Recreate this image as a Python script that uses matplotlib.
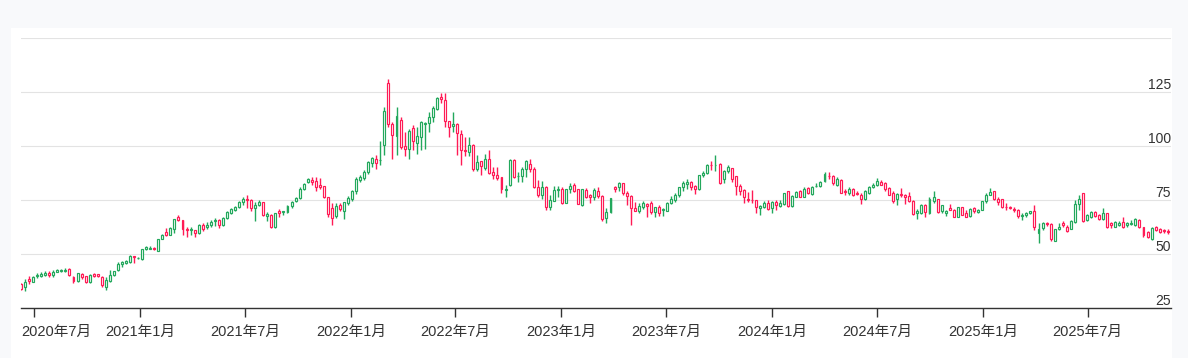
import numpy as np
import pandas as pd
import matplotlib
matplotlib.use("Agg")
import matplotlib.pyplot as plt
import matplotlib.dates as mdates
from matplotlib.patches import Rectangle
from matplotlib.ticker import FuncFormatter
from matplotlib.transforms import ScaledTranslation

# weekly candles, first week starting 2020-06-08
start_week = "2020-06-08"

opens = [
    36.0, 34.6, 38.2, 37.2, 39.6, 39.9, 40.4, 41.3, 40.3, 41.8, 42.1, 42.1, 43.0, 39.5, 37.4, 40.9, 39.7, 37.0, 40.6, 40.6,
    39.4, 34.6, 37.4, 40.2, 42.4, 45.4, 46.0, 46.3, 49.0, 48.0, 47.8, 52.5, 52.4, 52.6, 51.6, 57.1, 60.1, 59.0, 61.8, 67.0,
    65.6, 61.6, 61.1, 61.0, 59.6, 63.3, 62.4, 63.5, 65.2, 65.6, 63.6, 66.6, 68.9, 70.4, 71.7, 74.3, 75.3, 75.0, 71.3, 72.7,
    73.9, 67.4, 68.0, 62.4, 70.0, 69.4, 69.6, 72.0, 74.7, 75.8, 80.0, 83.5, 84.3, 83.6, 81.9, 81.4, 76.2, 71.4, 67.6, 72.8,
    69.8, 73.5, 75.3, 79.3, 84.3, 85.2, 88.0, 92.3, 94.1, 93.3, 100.3, 129.3, 110.2, 104.6, 112.0, 100.0, 98.5, 108.3, 101.2, 104.3,
    110.2, 110.8, 113.6, 117.0, 122.8, 121.3, 111.4, 109.3, 110.2, 105.6, 98.2, 97.4, 100.5, 89.5, 92.9, 89.8, 93.8, 88.0, 86.4, 85.5,
    79.8, 82.0, 93.5, 85.9, 86.1, 89.5, 91.7, 89.4, 80.9, 77.2, 81.2, 71.9, 74.7, 79.8, 80.0, 73.8, 80.3, 82.0, 80.0, 72.5,
    79.6, 77.1, 76.5, 79.2, 76.9, 66.7, 69.3, 81.2, 81.2, 82.7, 78.4, 76.9, 71.5, 69.8, 71.9, 73.2, 73.8, 69.6, 71.9, 70.3,
    70.1, 73.8, 75.0, 77.2, 80.9, 82.6, 83.2, 81.5, 80.3, 86.4, 87.4, 91.4, 91.0, 91.7, 84.9, 88.3, 89.7, 86.0, 81.5, 79.5,
    75.5, 75.2, 75.0, 71.2, 71.9, 73.8, 71.2, 74.1, 72.2, 73.2, 79.0, 72.2, 76.6, 79.0, 76.6, 80.6, 77.8, 81.3, 81.5, 83.6,
    86.3, 86.1, 82.1, 84.3, 79.0, 78.4, 80.3, 78.1, 77.5, 75.6, 78.4, 80.9, 81.8, 83.3, 82.7, 80.6, 78.4, 75.3, 77.8, 77.2,
    76.9, 74.7, 68.8, 69.1, 72.8, 69.1, 74.7, 75.3, 69.7, 68.8, 71.2, 70.6, 67.3, 71.6, 68.8, 67.6, 71.3, 69.4, 70.6, 74.4,
    77.5, 79.0, 75.6, 75.3, 71.9, 71.6, 71.0, 70.6, 67.6, 67.9, 68.8, 70.0, 59.8, 61.9, 64.5, 63.9, 56.2, 61.4, 64.5, 62.7,
    61.7, 64.8, 73.0, 78.1, 65.7, 67.0, 69.4, 68.2, 66.0, 68.8, 64.5, 62.7, 63.6, 64.8, 63.3, 64.0, 63.3, 65.7, 62.4, 60.2,
    57.1, 62.4, 61.7, 61.0, 60.7,
]
highs = [
    36.5, 38.3, 39.8, 39.8, 41.0, 41.5, 42.1, 42.0, 42.6, 42.9, 43.0, 43.4, 43.4, 39.6, 41.3, 41.2, 40.0, 40.8, 41.3, 40.9,
    39.8, 39.3, 42.4, 42.2, 46.1, 46.9, 47.4, 49.6, 49.2, 48.8, 52.4, 53.9, 53.5, 53.4, 57.0, 59.3, 62.0, 62.6, 66.2, 68.0,
    65.9, 62.3, 62.3, 61.3, 63.8, 64.5, 65.0, 65.7, 66.5, 66.0, 67.0, 69.8, 71.5, 72.2, 74.6, 76.5, 77.3, 75.3, 74.2, 74.8,
    74.2, 69.6, 68.3, 69.0, 70.7, 70.1, 72.5, 74.5, 76.5, 80.9, 83.0, 85.0, 85.5, 85.5, 85.0, 81.7, 76.4, 73.5, 73.8, 73.8,
    74.2, 76.9, 79.7, 85.5, 86.4, 88.9, 92.9, 95.1, 95.8, 102.5, 118.2, 130.9, 111.0, 117.9, 113.6, 106.5, 107.7, 109.7, 109.0, 111.7,
    111.0, 115.7, 118.5, 122.8, 124.4, 124.4, 111.6, 115.7, 110.5, 107.4, 104.0, 104.3, 100.8, 95.8, 93.2, 96.3, 98.2, 90.1, 90.1, 85.8,
    82.0, 93.8, 94.1, 88.1, 90.4, 93.5, 93.8, 90.1, 84.3, 83.8, 81.4, 77.2, 81.5, 81.5, 81.2, 80.3, 82.7, 82.7, 80.2, 80.2,
    80.4, 77.8, 80.4, 80.9, 77.2, 71.1, 76.0, 81.6, 83.5, 83.0, 79.3, 77.2, 74.1, 73.5, 74.4, 73.8, 74.4, 71.9, 72.5, 71.1,
    74.1, 76.9, 78.1, 81.2, 83.6, 84.6, 83.6, 81.8, 86.7, 88.3, 91.7, 93.2, 95.7, 92.0, 88.9, 91.4, 90.0, 86.3, 82.5, 80.0,
    78.7, 79.6, 75.2, 72.7, 74.4, 74.8, 74.4, 75.0, 74.8, 78.4, 79.3, 77.2, 79.3, 79.6, 81.2, 81.2, 81.5, 83.0, 84.0, 88.0,
    88.0, 86.6, 85.5, 84.6, 80.3, 81.2, 80.6, 79.0, 78.1, 79.6, 81.5, 83.0, 85.2, 84.3, 83.3, 81.2, 79.0, 78.4, 80.4, 77.8,
    78.7, 75.0, 71.0, 73.2, 73.2, 76.2, 79.0, 75.6, 72.8, 70.6, 73.2, 70.9, 71.9, 71.9, 70.3, 71.3, 71.9, 71.0, 74.7, 78.1,
    80.6, 79.3, 76.2, 75.6, 73.5, 72.2, 71.6, 71.0, 68.8, 69.4, 70.0, 72.8, 64.2, 65.0, 65.0, 64.2, 61.7, 64.2, 65.5, 63.6,
    65.7, 75.0, 77.3, 78.4, 68.5, 69.8, 70.0, 68.5, 71.3, 69.1, 65.0, 65.1, 65.1, 66.9, 64.8, 65.7, 66.6, 66.0, 62.7, 60.8,
    62.7, 63.0, 62.0, 61.7, 61.4,
]
lows = [
    33.5, 33.0, 36.1, 37.0, 38.9, 39.2, 39.7, 39.5, 39.2, 41.5, 41.8, 41.8, 40.0, 36.4, 37.2, 38.6, 36.8, 36.8, 39.3, 39.4,
    34.6, 33.3, 37.2, 40.0, 42.2, 44.1, 45.3, 46.0, 46.0, 47.5, 47.3, 51.9, 52.2, 51.8, 51.2, 56.8, 58.5, 58.8, 59.6, 65.2,
    59.0, 57.7, 59.0, 58.0, 59.2, 60.5, 61.4, 62.4, 63.0, 61.9, 63.0, 66.2, 68.5, 69.8, 71.3, 72.7, 71.1, 70.0, 65.5, 72.3,
    67.8, 65.4, 62.2, 62.2, 67.3, 68.0, 69.2, 71.5, 74.1, 75.5, 79.6, 83.0, 82.1, 79.3, 80.2, 76.0, 67.3, 63.3, 66.7, 69.8,
    66.4, 72.9, 74.7, 77.8, 83.5, 84.3, 87.0, 90.4, 89.5, 91.4, 96.0, 109.0, 93.8, 96.0, 98.5, 95.4, 93.8, 98.2, 96.3, 98.2,
    98.8, 106.5, 111.1, 116.5, 119.8, 109.0, 104.3, 106.5, 96.0, 91.2, 95.4, 95.4, 88.6, 88.6, 86.4, 88.9, 87.1, 84.6, 84.3, 78.4,
    76.5, 81.5, 85.2, 83.5, 83.5, 85.8, 88.1, 80.4, 76.2, 75.6, 70.4, 70.4, 74.4, 76.5, 73.2, 73.5, 78.1, 78.7, 73.0, 72.2,
    75.8, 73.8, 75.0, 75.8, 65.1, 64.5, 69.0, 78.7, 79.3, 77.2, 72.5, 63.4, 69.8, 69.2, 70.7, 67.3, 68.5, 67.0, 67.6, 67.6,
    69.8, 73.2, 74.1, 76.6, 79.3, 80.0, 79.6, 77.8, 79.6, 85.5, 87.0, 88.9, 88.6, 82.4, 83.0, 87.4, 83.5, 77.5, 77.5, 73.5,
    74.1, 73.8, 69.1, 67.9, 71.3, 70.6, 69.1, 70.4, 71.6, 72.7, 71.9, 71.6, 76.2, 76.2, 76.2, 77.8, 77.5, 80.9, 81.2, 83.3,
    84.9, 82.0, 81.5, 78.1, 77.2, 77.2, 76.9, 77.2, 73.2, 75.0, 77.8, 80.6, 81.5, 81.8, 79.3, 77.2, 73.8, 72.5, 76.2, 73.2,
    74.1, 68.0, 66.0, 68.5, 67.0, 68.5, 73.8, 69.1, 69.1, 67.6, 70.3, 67.0, 67.0, 67.9, 67.0, 67.3, 68.8, 69.1, 70.3, 73.8,
    77.2, 75.0, 72.8, 71.3, 70.6, 70.9, 69.4, 66.7, 65.8, 67.0, 68.5, 61.0, 55.3, 61.0, 63.0, 56.0, 56.0, 61.0, 62.6, 60.2,
    61.4, 64.5, 70.4, 64.8, 65.1, 66.7, 67.0, 65.7, 65.7, 62.0, 62.0, 62.3, 63.0, 62.0, 62.6, 63.3, 63.0, 62.0, 58.0, 57.4,
    56.5, 60.5, 59.6, 59.6, 59.3,
]
closes = [
    34.0, 37.2, 37.6, 39.4, 40.3, 40.6, 41.2, 40.2, 41.8, 42.5, 42.7, 42.8, 40.2, 37.4, 41.1, 39.3, 37.0, 40.5, 39.8, 39.7,
    35.5, 38.0, 40.1, 41.9, 45.4, 46.2, 46.7, 49.3, 48.6, 48.3, 52.1, 53.3, 52.6, 52.4, 56.8, 59.0, 58.7, 61.9, 66.0, 65.8,
    61.4, 61.2, 61.6, 59.6, 63.4, 61.5, 63.4, 64.9, 65.6, 63.5, 66.7, 69.5, 71.0, 71.8, 74.3, 75.3, 75.0, 71.2, 72.7, 74.2,
    68.0, 68.5, 62.4, 68.8, 69.2, 70.0, 72.2, 74.2, 75.8, 79.9, 82.6, 84.5, 83.3, 81.2, 81.0, 76.3, 68.6, 66.7, 72.2, 70.8,
    74.1, 75.9, 79.3, 84.9, 85.8, 88.0, 92.6, 94.4, 92.3, 93.7, 116.4, 110.2, 104.9, 113.9, 99.4, 98.5, 106.8, 102.2, 104.6, 111.1,
    110.8, 113.6, 117.6, 122.2, 121.6, 111.4, 109.0, 110.2, 105.9, 98.2, 97.6, 100.5, 89.2, 92.6, 90.7, 93.8, 87.7, 86.4, 85.2, 80.0,
    80.1, 93.5, 85.8, 86.2, 89.2, 92.9, 89.5, 80.9, 77.2, 80.9, 71.9, 75.0, 79.6, 80.2, 73.8, 80.0, 81.5, 79.3, 73.2, 80.0,
    76.5, 76.6, 79.6, 76.9, 66.0, 69.4, 75.8, 80.0, 82.7, 78.1, 76.9, 71.3, 70.1, 72.2, 73.5, 72.2, 69.6, 71.6, 69.2, 70.9,
    73.8, 75.6, 77.2, 80.9, 83.0, 83.2, 81.2, 80.3, 86.4, 87.7, 91.2, 91.0, 91.3, 83.0, 88.3, 90.4, 84.5, 81.5, 79.0, 76.5,
    75.2, 74.9, 71.6, 72.2, 73.8, 71.0, 74.1, 72.7, 73.8, 78.1, 72.2, 76.9, 78.7, 76.6, 80.3, 78.1, 81.2, 81.6, 83.5, 87.0,
    86.0, 82.7, 84.9, 78.4, 78.7, 80.3, 77.5, 77.8, 75.6, 79.0, 81.2, 82.1, 84.0, 82.1, 80.0, 77.5, 74.7, 77.8, 77.3, 76.2,
    74.7, 68.5, 70.0, 72.8, 69.4, 75.6, 76.5, 69.4, 72.5, 70.0, 70.6, 67.3, 71.6, 68.2, 67.3, 71.0, 70.0, 70.6, 74.4, 77.2,
    78.7, 75.6, 74.1, 71.9, 71.6, 71.3, 70.6, 67.6, 68.0, 69.1, 69.7, 62.5, 61.8, 64.5, 63.7, 56.8, 61.4, 62.7, 63.3, 60.8,
    65.4, 73.0, 75.5, 65.4, 68.2, 69.4, 67.6, 66.0, 68.8, 62.7, 63.3, 64.8, 64.5, 62.4, 64.2, 64.5, 66.0, 62.4, 58.6, 58.0,
    62.0, 61.1, 60.2, 60.5, 60.2,
]

y_ticks = [25, 50, 75, 100, 125, 150]
y_labels = ["25", "50", "75", "100", "125", ""]

up_color = "#22a85c"
down_color = "#ff1a55"
label_color = "#333333"

dates = pd.date_range(start_week, periods=len(closes), freq="7D")
x = mdates.date2num(dates.to_pydatetime())
o = np.array(opens)
h = np.array(highs)
l = np.array(lows)
c = np.array(closes)
colors = np.where(c >= o, up_color, down_color)

fig = plt.figure(figsize=(11.88, 3.58), dpi=100, facecolor="#f8f9fb")
fig.add_artist(Rectangle((11 / 1188, 0), 1161 / 1188, 330 / 358, transform=fig.transFigure,
                         facecolor="white", edgecolor="none", zorder=0))
ax = fig.add_axes([21 / 1188, 50 / 358, 1150 / 1188, 270 / 358])
ax.set_facecolor("white")

# wicks, then hollow bodies on top
ax.vlines(x, l, h, colors=colors, linewidth=1.0, zorder=3)
ax.bar(x, np.maximum(np.abs(c - o), 0.15), bottom=np.minimum(o, c), width=3.4,
       facecolor="white", edgecolor=colors, linewidth=0.85, zorder=4)

ax.set_xlim(x[0], x[-1] + 5.7)
ax.set_ylim(25, 150)

ax.set_yticks(y_ticks)
ax.set_yticklabels(y_labels)
ax.yaxis.tick_right()
ax.tick_params(axis="y", length=0, pad=0, labelsize=10, labelcolor=label_color)
for lab in ax.get_yticklabels():
    lab.set_horizontalalignment("right")
    lab.set_verticalalignment("bottom")
    lab.set_fontfamily(["Liberation Sans", "DejaVu Sans"])
ax.grid(axis="y", color="#e3e3e3", linewidth=0.8, zorder=0)
ax.set_axisbelow(True)

ax.xaxis.set_major_locator(mdates.MonthLocator(bymonth=[1, 7]))
ax.xaxis.set_major_formatter(FuncFormatter(
    lambda v, pos: f"{mdates.num2date(v).year}年{mdates.num2date(v).month}月"))
ax.tick_params(axis="x", direction="out", length=6.5, width=1.0, color=label_color,
               pad=5.5, labelsize=10.5, labelcolor=label_color)
xlabels = ax.get_xticklabels()
for lab in xlabels:
    lab.set_fontfamily(["Liberation Sans", "Noto Sans CJK SC"])
# first label is pushed inside the plot's left edge
xlabels[0].set_horizontalalignment("left")
xlabels[0].set_transform(xlabels[0].get_transform()
                         + ScaledTranslation(-0.13, 0, fig.dpi_scale_trans))

for side in ["top", "left", "right"]:
    ax.spines[side].set_visible(False)
ax.spines["bottom"].set_color(label_color)
ax.spines["bottom"].set_linewidth(1.0)

fig.savefig("out.png", dpi=100, facecolor=fig.get_facecolor())
